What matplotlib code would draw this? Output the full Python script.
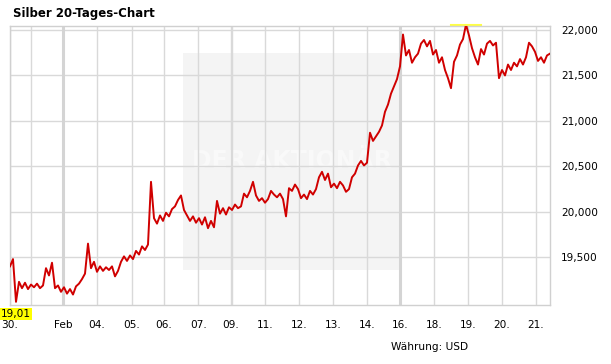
import numpy as np
import matplotlib.pyplot as plt
from matplotlib.patches import Rectangle

# Silver price, sampled roughly every 1/11 trading day across the window
prices = [
    19400, 19480, 19010, 19230, 19160, 19220, 19150, 19200, 19170, 19210,
    19160, 19190, 19380, 19300, 19440, 19160, 19190, 19120, 19170, 19100,
    19150, 19090, 19180, 19210, 19260, 19320, 19650, 19380, 19450, 19340,
    19400, 19350, 19390, 19360, 19400, 19290, 19350, 19450, 19510, 19460,
    19520, 19480, 19570, 19530, 19620, 19580, 19640, 20330, 19930, 19870,
    19960, 19900, 19990, 19950, 20030, 20060, 20130, 20180, 20020, 19960,
    19900, 19950, 19880, 19930, 19860, 19940, 19820, 19900, 19830, 20120,
    19980, 20040, 19970, 20050, 20020, 20080, 20040, 20060, 20200, 20160,
    20230, 20330, 20180, 20120, 20150, 20100, 20140, 20230, 20190, 20160,
    20200, 20140, 19950, 20260, 20230, 20300, 20250, 20150, 20190, 20140,
    20230, 20190, 20250, 20380, 20440, 20350, 20420, 20270, 20310, 20260,
    20330, 20290, 20220, 20250, 20380, 20420, 20510, 20560, 20510, 20540,
    20870, 20780, 20830, 20880, 20950, 21100, 21180, 21300, 21380, 21460,
    21600, 21950, 21720, 21780, 21640, 21700, 21740, 21850, 21890, 21820,
    21880, 21730, 21780, 21640, 21700, 21560, 21470, 21360, 21650, 21720,
    21840, 21900, 22060, 21940, 21800, 21700, 21620, 21790, 21730, 21850,
    21880, 21830, 21860, 21470, 21560, 21500, 21620, 21560, 21640, 21600,
    21680, 21620, 21700, 21860, 21820, 21760, 21660, 21700, 21640, 21720,
    21740,
]
x_end = 15.88  # window length in trading days

day_pos = [0, 0.609, 1.559, 2.559, 3.579, 4.529, 5.538, 6.491, 6.538,
           7.5, 8.51, 9.51, 10.49, 11.47, 12.48, 13.46, 14.47, 15.46]
day_labels = ['30.', '', 'Feb', '04.', '05.', '06.', '07.', '09.', '',
              '11.', '12.', '13.', '14.', '16.', '18.', '19.', '20.', '21.']
week_start = [False, False, True, False, False, False, False, False, False,
              False, False, False, False, True, False, False, False, False]
y_ticks = [19500, 20000, 20500, 21000, 21500, 22000]

xs = np.linspace(0, x_end, len(prices))
prices = np.array(prices)

fig = plt.figure(figsize=(6.11, 3.64), dpi=100)
ax = fig.add_axes([10/611, 59/364, 540/611, 279/364])
ax.set_xlim(0, x_end)
ax.set_ylim(18975, 22044)

grid_c = '#d9d9d9'
for v in y_ticks:
    ax.axhline(v, color=grid_c, lw=1, zorder=1)
for p, ws in zip(day_pos, week_start):
    ax.axvline(p, color='#d4d4d4' if ws else grid_c, lw=2.2 if ws else 1, zorder=1)

# watermark
ax.add_patch(Rectangle((0.320, 0.125), 0.402, 0.778, transform=ax.transAxes,
                       color='#f4f4f4', zorder=0.5, lw=0))
ax.text(0.522, 0.516, 'DER AKTIONÄR', transform=ax.transAxes, ha='center',
        va='center', fontsize=17, fontweight='bold', color='#f9f9f9', zorder=0.6)

ax.plot(xs, prices, color='#d00000', lw=1.4, zorder=3)

for s in ax.spines.values():
    s.set_color('#d0d0d0')
    s.set_linewidth(1)

ax.set_xticks(day_pos)
ax.set_xticklabels(day_labels)
ax.set_yticks(y_ticks)
ax.set_yticklabels([f'{v:,}' for v in y_ticks])
ax.yaxis.tick_right()
ax.tick_params(axis='both', length=0, labelsize=7.6, colors='black')
ax.tick_params(axis='y', pad=8)
ax.tick_params(axis='x', pad=11)

# min / max markers
i_min = int(np.argmin(prices))
i_max = int(np.argmax(prices))
ax.annotate('19,01', xy=(xs[i_min], 18975), xytext=(0, -3), textcoords='offset points',
            ha='center', va='top', fontsize=7.6,
            bbox=dict(boxstyle='square,pad=0.08', fc='#ffff00', ec='none'),
            annotation_clip=False)
ax.plot([xs[i_max] - 0.45, xs[i_max] + 0.45], [prices[i_max], prices[i_max]],
        color='#ffff44', lw=1.5, clip_on=False, zorder=2)

fig.text(13/611, 1 - 14/364, 'Silber 20-Tages-Chart', fontsize=8.5,
         fontweight='bold', va='center', ha='left')
fig.text(468/611, 1 - 347/364, 'Währung: USD', fontsize=7.6, va='center', ha='right')

fig.savefig('out.png', dpi=100)
